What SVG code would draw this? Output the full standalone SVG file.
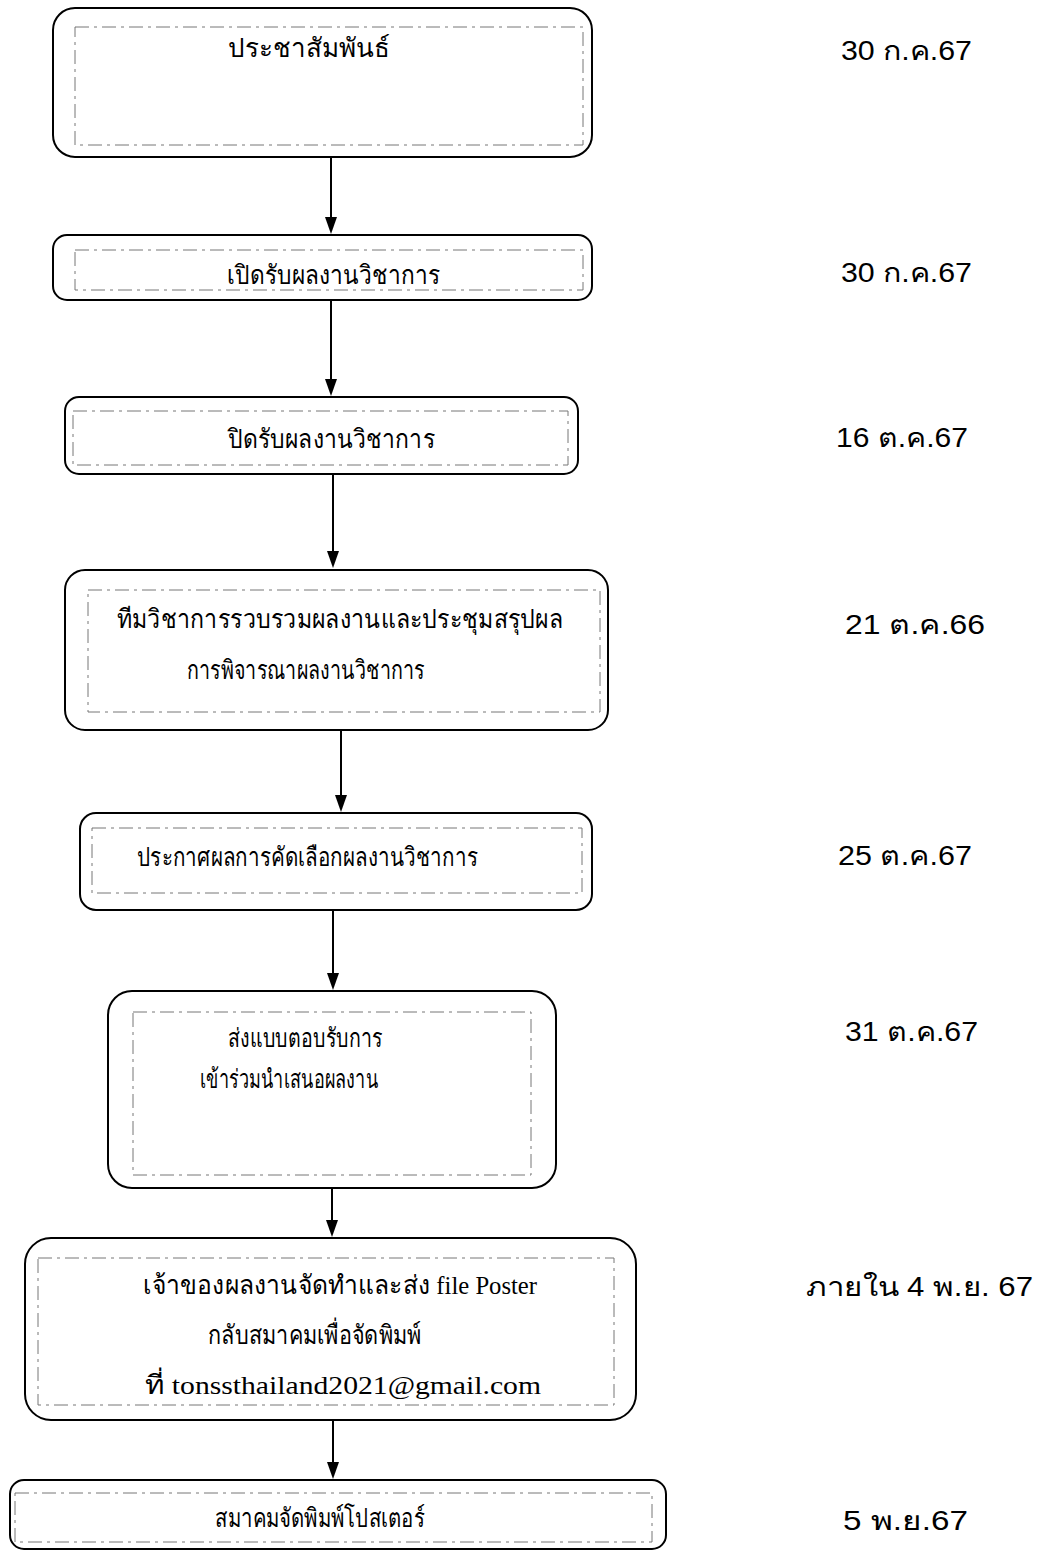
<svg xmlns="http://www.w3.org/2000/svg" width="1047" height="1554" viewBox="0 0 1047 1554">
<style>
.box{fill:#fff;stroke:#000;stroke-width:2}
.inner{fill:none;stroke:#777;stroke-width:1;stroke-dasharray:14 5 3 5}
.t{font-family:"Liberation Serif","Noto Serif",serif;font-size:26px;fill:#000;text-anchor:start}
.d{font-family:"Liberation Sans","Noto Sans",sans-serif;font-size:27px;fill:#000;text-anchor:start}
.c{stroke:#000;stroke-width:2;fill:none}
.ah{fill:#000}
</style>
<rect width="1047" height="1554" fill="#fff"/>
<g id="connectors">
<path class="c" d="M331,157 V218"/>
<path class="ah" d="M325,217 L337,217 L331,234 Z"/>
<path class="c" d="M331,300 V380"/>
<path class="ah" d="M325,379 L337,379 L331,396 Z"/>
<path class="c" d="M333,474 V552"/>
<path class="ah" d="M327,551 L339,551 L333,568 Z"/>
<path class="c" d="M341,730 V796"/>
<path class="ah" d="M335,795 L347,795 L341,812 Z"/>
<path class="c" d="M333,910 V974"/>
<path class="ah" d="M327,973 L339,973 L333,990 Z"/>
<path class="c" d="M332,1188 V1221"/>
<path class="ah" d="M326,1220 L338,1220 L332,1237 Z"/>
<path class="c" d="M333,1420 V1463"/>
<path class="ah" d="M327,1462 L339,1462 L333,1479 Z"/>
</g>
<g id="n1">
<rect class="box" x="53" y="8" width="539" height="149" rx="22"/>
<rect class="inner" x="75" y="27" width="508" height="118"/>
<text class="t" x="228" y="57" font-size="35" textLength="162" lengthAdjust="spacingAndGlyphs">ประชาสัมพันธ์</text>
</g>
<g id="n2">
<rect class="box" x="53" y="235" width="539" height="65" rx="14"/>
<rect class="inner" x="75" y="250" width="508" height="40"/>
<text class="t" x="227" y="284" textLength="213" lengthAdjust="spacingAndGlyphs">เปิดรับผลงานวิชาการ</text>
</g>
<g id="n3">
<rect class="box" x="65" y="397" width="513" height="77" rx="14"/>
<rect class="inner" x="73" y="411" width="495" height="54"/>
<text class="t" x="228" y="448" textLength="207" lengthAdjust="spacingAndGlyphs">ปิดรับผลงานวิชาการ</text>
</g>
<g id="n4">
<rect class="box" x="65" y="570" width="543" height="160" rx="20"/>
<rect class="inner" x="88" y="590" width="512" height="122"/>
<text class="t" x="117" y="628" textLength="446" lengthAdjust="spacingAndGlyphs">ทีมวิชาการรวบรวมผลงานและประชุมสรุปผล</text>
<text class="t" x="187" y="679" textLength="238" lengthAdjust="spacingAndGlyphs">การพิจารณาผลงานวิชาการ</text>
</g>
<g id="n5">
<rect class="box" x="80" y="813" width="512" height="97" rx="16"/>
<rect class="inner" x="92" y="828" width="490" height="65"/>
<text class="t" x="137" y="866" textLength="341" lengthAdjust="spacingAndGlyphs">ประกาศผลการคัดเลือกผลงานวิชาการ</text>
</g>
<g id="n6">
<rect class="box" x="108" y="991" width="448" height="197" rx="24"/>
<rect class="inner" x="133" y="1012" width="398" height="163"/>
<text class="t" x="228" y="1047" textLength="155" lengthAdjust="spacingAndGlyphs">ส่งแบบตอบรับการ</text>
<text class="t" x="200" y="1088" textLength="178" lengthAdjust="spacingAndGlyphs">เข้าร่วมนำเสนอผลงาน</text>
</g>
<g id="n7">
<rect class="box" x="25" y="1238" width="611" height="182" rx="26"/>
<rect class="inner" x="38" y="1258" width="576" height="147"/>
<text class="t" x="143" y="1294" font-size="28" textLength="394" lengthAdjust="spacingAndGlyphs">เจ้าของผลงานจัดทำและส่ง  file Poster</text>
<text class="t" x="208" y="1344" textLength="213" lengthAdjust="spacingAndGlyphs">กลับสมาคมเพื่อจัดพิมพ์</text>
<text class="t" x="145" y="1394" font-size="29" textLength="396" lengthAdjust="spacingAndGlyphs">ที่ tonssthailand2021@gmail.com</text>
</g>
<g id="n8">
<rect class="box" x="10" y="1480" width="656" height="69" rx="14"/>
<rect class="inner" x="15" y="1493" width="637" height="49"/>
<text class="t" x="215" y="1527" textLength="210" lengthAdjust="spacingAndGlyphs">สมาคมจัดพิมพ์โปสเตอร์</text>
</g>
<g id="dates">
<text class="d" x="841" y="60" textLength="131" lengthAdjust="spacingAndGlyphs">30 ก.ค.67</text>
<text class="d" x="841" y="282" textLength="131" lengthAdjust="spacingAndGlyphs">30 ก.ค.67</text>
<text class="d" x="836" y="447" textLength="132" lengthAdjust="spacingAndGlyphs">16 ต.ค.67</text>
<text class="d" x="845" y="634" textLength="140" lengthAdjust="spacingAndGlyphs">21 ต.ค.66</text>
<text class="d" x="838" y="865" textLength="134" lengthAdjust="spacingAndGlyphs">25 ต.ค.67</text>
<text class="d" x="845" y="1041" textLength="133" lengthAdjust="spacingAndGlyphs">31 ต.ค.67</text>
<text class="d" x="806" y="1296" textLength="227" lengthAdjust="spacingAndGlyphs">ภายใน 4 พ.ย. 67</text>
<text class="d" x="843" y="1530" textLength="125" lengthAdjust="spacingAndGlyphs">5 พ.ย.67</text>
</g>
</svg>
